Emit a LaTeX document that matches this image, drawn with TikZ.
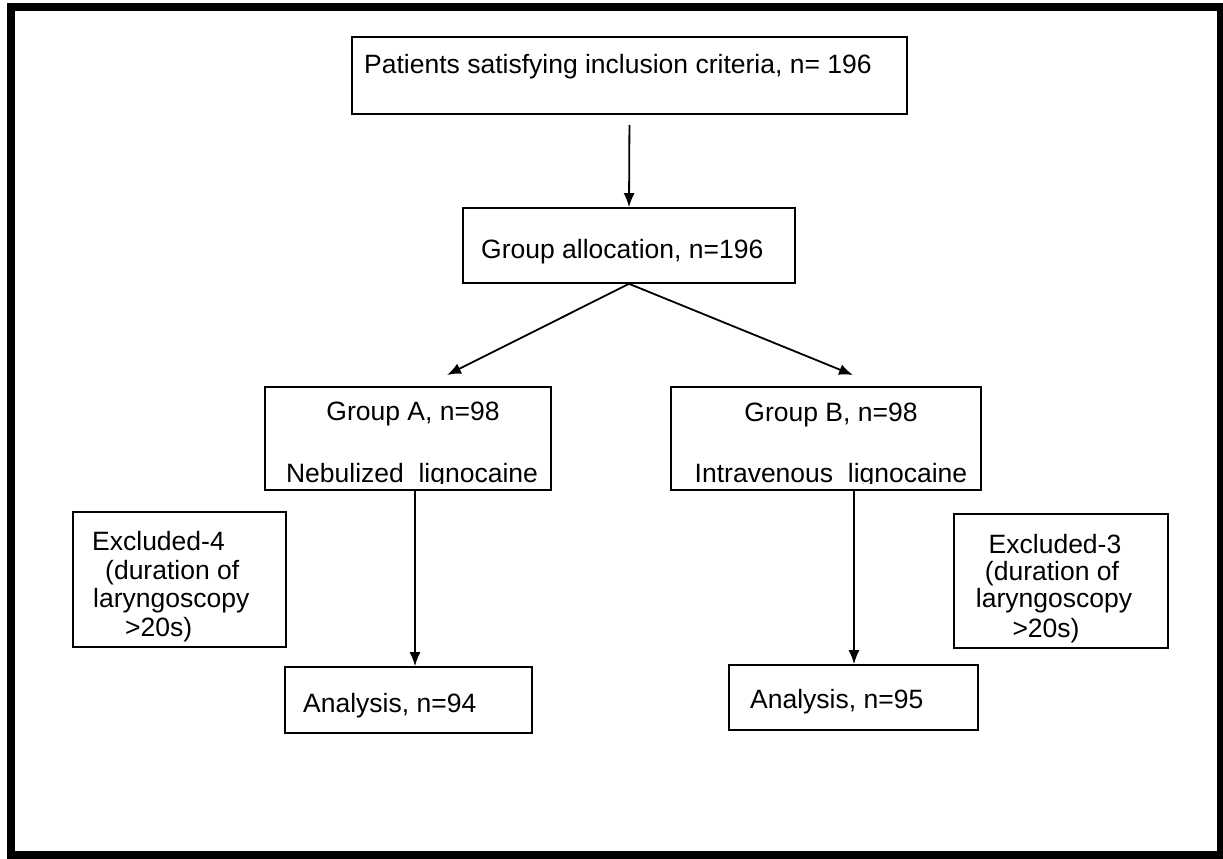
\documentclass[tikz,border=0pt]{standalone}
\usepackage{fontspec}
\setmainfont{Liberation Sans}
\usetikzlibrary{arrows.meta}
\begin{document}
\begin{tikzpicture}[x=1pt,y=-1pt,
  box/.style={draw=black, line width=1.6pt, rectangle, inner sep=0pt},
  txt/.style={inner sep=0pt, font=\fontsize{26.5}{29}\selectfont, text=black},
  arr/.style={draw=black, line width=1.8pt, -{Latex[length=14pt,width=11pt]}},
  frame/.style={draw=black, line width=8pt}]
\useasboundingbox (0,0) rectangle (1223,859);
\draw[frame] (11,7) rectangle (1221,855);

% boxes
\node[box, minimum width=555pt, minimum height=77pt] (top) at (629.5,75.5) {};
\node[box, minimum width=332pt, minimum height=75pt] (alloc) at (629,245.5) {};
\node[box, minimum width=286pt, minimum height=103pt] (gA) at (408,438.5) {};
\node[box, minimum width=310pt, minimum height=103pt] (gB) at (826,438.5) {};
\node[box, minimum width=213pt, minimum height=135pt] (ex4) at (179.5,579.5) {};
\node[box, minimum width=214pt, minimum height=134pt] (ex3) at (1061,581) {};
\node[box, minimum width=247pt, minimum height=66pt] (anA) at (408.5,700) {};
\node[box, minimum width=249pt, minimum height=65pt] (anB) at (853.5,697.5) {};

% texts
\node[txt, anchor=base west] (toptxt) at (364,74) {Patients satisfying inclusion criteria, n= 196};
\node[txt, anchor=base west] (alloctxt) at (481,258) {Group allocation, n=196};
\node[txt, anchor=base] (gAtxt1) at (413,420) {Group A, n=98};
\node[txt, anchor=base] (gBtxt1) at (831,421) {Group B, n=98};
\begin{scope}
  \clip (260,440) rectangle (990,483.5);
  \node[txt, anchor=base] (gAtxt2) at (412,482) {Nebulized\ \ lignocaine};
  \node[txt, anchor=base] (gBtxt2) at (831,482) {Intravenous\ \ lignocaine};
\end{scope}
\node[txt, anchor=base west] (ex4a) at (92,550) {Excluded-4};
\node[txt, anchor=base west] (ex4b) at (105,579) {(duration of};
\node[txt, anchor=base west] (ex4c) at (93,607) {laryngoscopy};
\node[txt, anchor=base west] (ex4d) at (125,636) {>20s)};
\node[txt, anchor=base] (ex3a) at (1055,553) {Excluded-3};
\node[txt, anchor=base] (ex3b) at (1052,580) {(duration of};
\node[txt, anchor=base] (ex3c) at (1054,607) {laryngoscopy};
\node[txt, anchor=base] (ex3d) at (1046,637) {>20s)};
\node[txt, anchor=base west] (anAtxt) at (303,712) {Analysis, n=94};
\node[txt, anchor=base west] (anBtxt) at (750,708) {Analysis, n=95};

% connectors
\draw[arr, shorten <=10pt] (top.south) -- (alloc.north);
\coordinate (tipA) at (447,375);
\coordinate (tipB) at (853,375);
\draw[arr] (alloc.south) -- (tipA);
\draw[arr] (alloc.south) -- (tipB);
\coordinate (xa) at (415,0);
\coordinate (xb) at (854,0);
\draw[arr] (xa |- gA.south) -- (xa |- anA.north);
\draw[arr] (xb |- gB.south) -- (xb |- anB.north);
\end{tikzpicture}
\end{document}
